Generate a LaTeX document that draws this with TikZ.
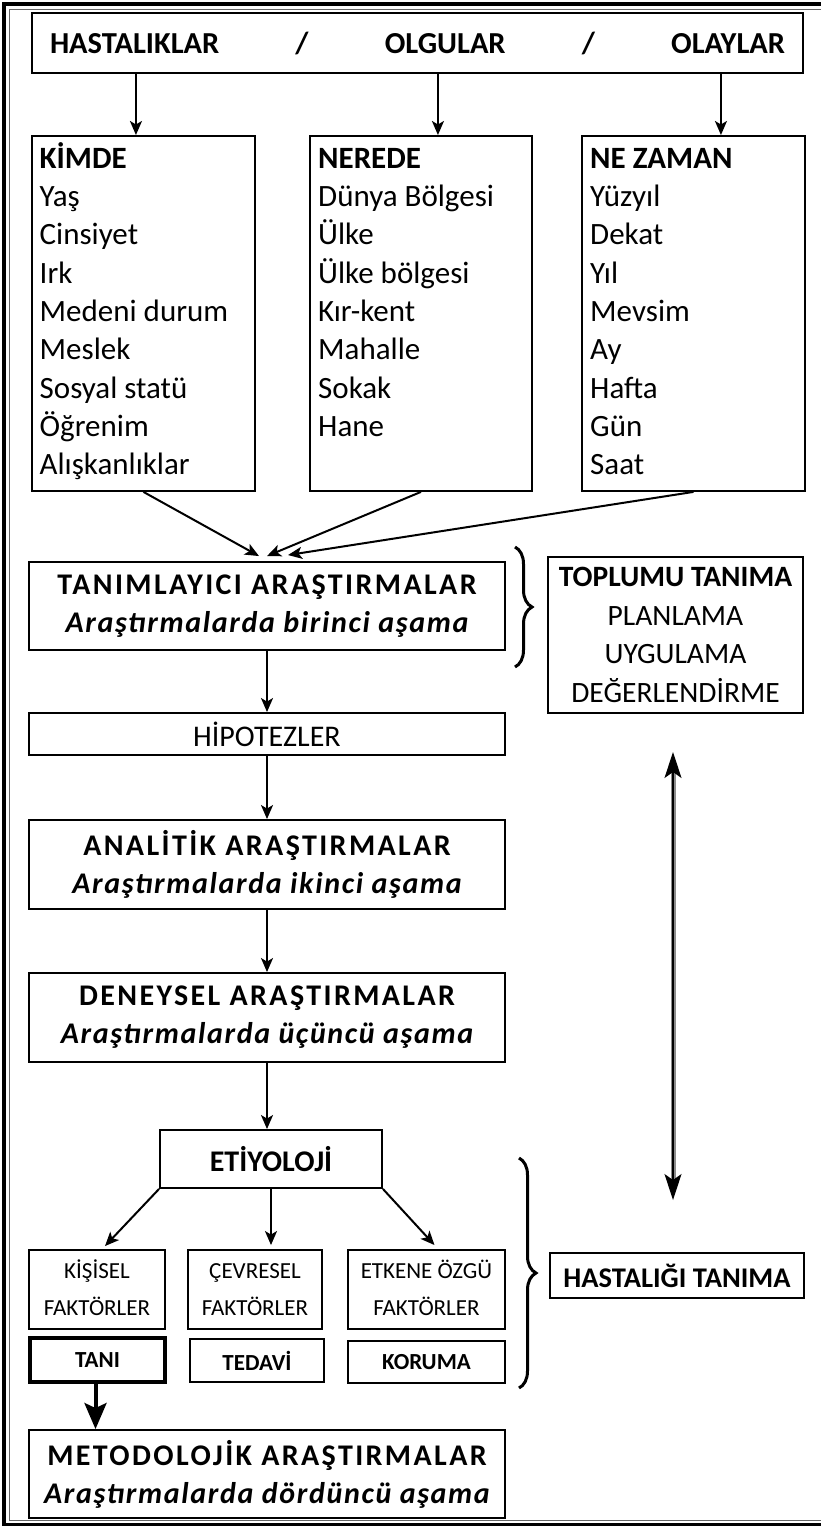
\documentclass[tikz,border=0pt]{standalone}
\usepackage{fontspec}
\setmainfont{Carlito}
\usetikzlibrary{arrows.meta,decorations.pathreplacing,calc}
\newcommand\mytitle[2]{{\bfseries\addfontfeatures{LetterSpace=8}#1}\\{\bfseries\itshape\addfontfeatures{LetterSpace=5.5}#2}}
\tikzset{
  bx/.style={draw, line width=1.9pt, inner sep=0pt, align=center},
  arr/.style={line width=2pt, -{Stealth[length=14pt,width=12pt,inset=3.5pt]}},
  titlef/.style={font=\fontsize{30}{38}\selectfont},
  listtxt/.style={inner sep=0pt, anchor=north west, align=left, font=\fontsize{31}{38.3}\selectfont},
  smallf/.style={font=\fontsize{23}{37}\selectfont},
  smallb/.style={font={\fontsize{23}{28}\selectfont\bfseries}},
  brc/.style={decorate, decoration={brace, amplitude=17pt, aspect=0.5}, line width=3pt},
}
\begin{document}
\begin{tikzpicture}[x=1pt,y=-1pt]
\useasboundingbox (0,0) rectangle (821,1527);
% outer frame
\draw[line width=3.5pt] (870,4) -- (4,4) -- (4,1524.5) -- (870,1524.5);
\draw[line width=1.5pt, black!60] (870,9.5) -- (9.5,9.5) -- (9.5,1520.5) -- (870,1520.5);

% top box
\node[bx, minimum width=771pt, minimum height=60pt, font=\fontsize{30.5}{36}\selectfont\bfseries] (top) at (417.5,43)
  {\makebox[735pt]{HASTALIKLAR\hfill/\hfill OLGULAR\hfill/\hfill OLAYLAR}};

% list boxes
\node[bx, minimum width=223pt, minimum height=355pt, anchor=north west] (kimde) at (31,135) {};
\node[bx, minimum width=222pt, minimum height=355pt, anchor=north west] (nerede) at (309,135) {};
\node[bx, minimum width=223pt, minimum height=355pt, anchor=north west] (nezaman) at (581,135) {};
\node[listtxt] (kimdeT) at ([xshift=8.5pt,yshift=-6.2pt]kimde.north west)
  {\strut\textbf{KİMDE}\\Yaş\\Cinsiyet\\Irk\\Medeni durum\\Meslek\\Sosyal statü\\Öğrenim\\Alışkanlıklar};
\node[listtxt] (neredeT) at ([xshift=9pt,yshift=-6.2pt]nerede.north west)
  {\strut\textbf{NEREDE}\\Dünya Bölgesi\\Ülke\\Ülke bölgesi\\Kır-kent\\Mahalle\\Sokak\\Hane};
\node[listtxt] (nezamanT) at ([xshift=9pt,yshift=-6.2pt]nezaman.north west)
  {\strut\textbf{NE ZAMAN}\\Yüzyıl\\Dekat\\Yıl\\Mevsim\\Ay\\Hafta\\Gün\\Saat};

\coordinate (a1) at ([xshift=-7.5pt]kimde.north);
\coordinate (a2) at ([xshift=17pt]nerede.north);
\coordinate (a3) at ([xshift=27.5pt]nezaman.north);
\draw[arr] (top.south -| a1) -- (a1);
\draw[arr] (top.south -| a2) -- (a2);
\draw[arr] (top.south -| a3) -- (a3);

% main column
\node[bx, titlef, minimum width=476pt, minimum height=88pt] (tan) at (267,606)
  {\mytitle{TANIMLAYICI ARAŞTIRMALAR}{Araştırmalarda birinci aşama}};
\draw[arr] (kimde.south) -- ([xshift=-8pt,yshift=5pt]tan.north);
\draw[arr] (nerede.south) -- ([yshift=5pt]tan.north);
\draw[arr] (nezaman.south) -- ([xshift=21pt,yshift=6pt]tan.north);

\node[bx, minimum width=476pt, minimum height=42pt, font=\fontsize{30}{36}\selectfont] (hip) at (267,734) {HİPOTEZLER};
\node[bx, titlef, minimum width=476pt, minimum height=89pt] (ana) at (267,864.5)
  {\mytitle{ANALİTİK ARAŞTIRMALAR}{Araştırmalarda ikinci aşama}};
\node[bx, titlef, minimum width=476pt, minimum height=89pt] (den) at (267,1017.5)
  {\mytitle{DENEYSEL ARAŞTIRMALAR}{Araştırmalarda üçüncü aşama}};
\node[bx, minimum width=222pt, minimum height=58pt, font=\fontsize{30}{36}\selectfont\bfseries] (etiy) at (271,1159) {ETİYOLOJİ};

\draw[arr] (tan.south) -- (hip.north);
\draw[arr] (hip.south) -- (ana.north);
\draw[arr] (ana.south) -- (den.north);
\draw[arr] (den.south) -- (den.south |- etiy.north);

% factors
\node[bx, smallf, minimum width=136pt, minimum height=79pt] (kis) at (97,1289.5) {\strut KİŞİSEL\\FAKTÖRLER\strut};
\node[bx, smallf, minimum width=134pt, minimum height=79pt] (cev) at (255,1289.5) {\strut ÇEVRESEL\\FAKTÖRLER\strut};
\node[bx, smallf, minimum width=157pt, minimum height=79pt] (etk) at (426.5,1289.5) {\strut ETKENE ÖZGÜ\\FAKTÖRLER\strut};
\draw[arr] (etiy.south west) -- ([xshift=8pt,yshift=3pt]kis.north);
\draw[arr] (etiy.south) -- ([yshift=4pt]etiy.south |- cev.north);
\draw[arr] (etiy.south east) -- ([xshift=8pt,yshift=4pt]etk.north);

\node[bx, smallb, line width=4.2pt, minimum width=135pt, minimum height=44pt] (tani) at (97.5,1360) {TANI};
\node[bx, smallb, minimum width=134pt, minimum height=43pt] (ted) at (257,1360.5) {TEDAVİ};
\node[bx, smallb, minimum width=157pt, minimum height=42pt] (kor) at (426.5,1362) {KORUMA};

\node[bx, titlef, minimum width=476pt, minimum height=88pt] (met) at (267,1474)
  {\mytitle{METODOLOJİK ARAŞTIRMALAR}{Araştırmalarda dördüncü aşama}};
\draw[line width=4pt, -{Stealth[length=26pt,width=22pt,inset=5pt]}] ([xshift=-2pt]tani.south) -- ([xshift=-2pt]tani.south |- met.north);

% right side
\node[bx, minimum width=255pt, minimum height=156pt, font=\fontsize{29.5}{38.5}\selectfont] (topl) at (675.5,635)
  {\textbf{TOPLUMU TANIMA}\\PLANLAMA\\UYGULAMA\\DEĞERLENDİRME};
\node[bx, minimum width=254pt, minimum height=45pt, font=\fontsize{28.5}{34}\selectfont\bfseries] (hast) at (677,1275.5) {HASTALIĞI TANIMA};

\draw[brc] (515,547) -- (515,667);
\draw[brc] (519,1158) -- (519,1388);

% double arrow
\coordinate (dA) at (673,752);
\coordinate (dB) at (673,1200);
\draw[black!45, line width=5pt, shorten <=20pt, shorten >=20pt] (dA) -- (dB);
\draw[line width=1.2pt, {Stealth[length=26pt,width=17pt,inset=6pt]}-{Stealth[length=26pt,width=17pt,inset=6pt]}] (dA) -- (dB);
\end{tikzpicture}
\end{document}
